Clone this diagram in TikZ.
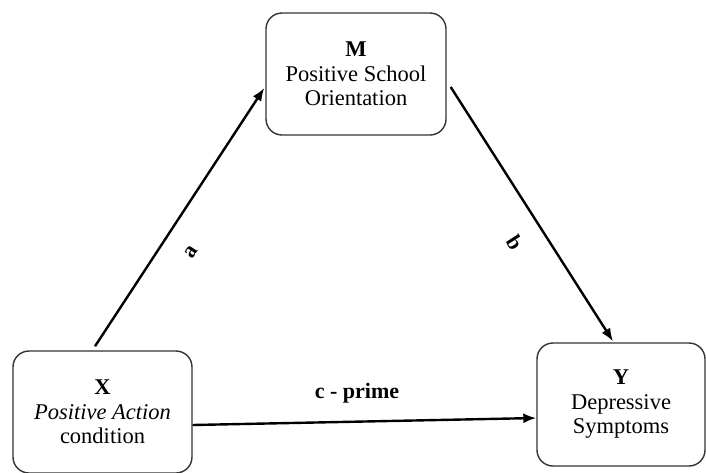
\documentclass[tikz,border=0pt]{standalone}
\usepackage{fontspec}
\setmainfont{Liberation Serif}
\usetikzlibrary{arrows.meta}
\begin{document}
\begin{tikzpicture}[x=1pt,y=-1pt,
  box/.style={draw=black!80, line width=1.4pt, rounded corners=16pt, align=center,
    font=\fontsize{22.5}{24.5}\selectfont, inner sep=0pt},
  arr/.style={line width=2.4pt, -{Latex[length=13pt,width=10pt]}},
  lbl/.style={font=\fontsize{22}{24}\selectfont\bfseries}]
\useasboundingbox (0,0) rectangle (706,472);
\node[box, minimum width=180pt, minimum height=122pt] (M) at (356,74)
  {\textbf{M}\\Positive School\\Orientation};
\node[box, minimum width=179pt, minimum height=122pt] (X) at (102.5,412)
  {\textbf{X}\\\textit{Positive Action}\\condition};
\node[box, minimum width=168pt, minimum height=123pt] (Y) at (621,404.5)
  {\textbf{Y}\\Depressive\\Symptoms};
\draw[arr] ([xshift=-7.5pt,yshift=4pt]X.north) -- ([xshift=-1pt,yshift=-14pt]M.west)
  node[lbl, pos=0.426, sloped, yshift=-29pt] {a};
\draw[arr] ([xshift=4pt,yshift=-13pt]M.east) -- ([xshift=-8pt,yshift=1pt]Y.north)
  node[lbl, pos=0.55, sloped, yshift=-29pt] {b};
\draw[arr] ([yshift=-13pt]X.east) -- ([yshift=-13.5pt]Y.west)
  node[lbl, pos=0.478, anchor=base, yshift=23pt] {c - prime};
\end{tikzpicture}
\end{document}
